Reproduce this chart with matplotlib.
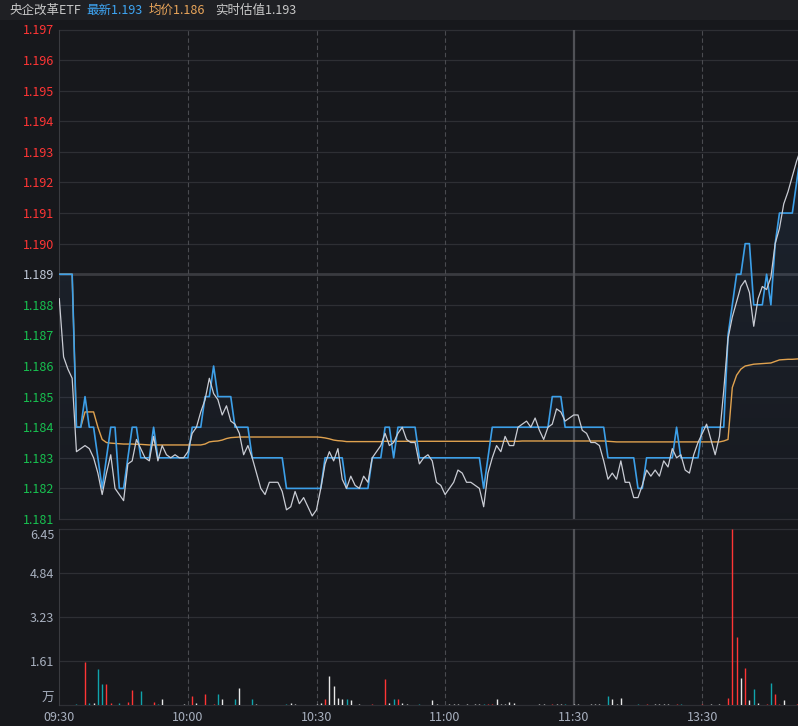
import numpy as np
import matplotlib.pyplot as plt
from matplotlib.patches import PathPatch, Rectangle
from matplotlib.colors import LinearSegmentedColormap

plt.rcParams['font.family'] = ['Noto Sans CJK SC', 'DejaVu Sans']

# --- data (one value per minute from 09:30) ---
price = [1.189, 1.189, 1.189, 1.189, 1.184, 1.184, 1.185, 1.184, 1.184, 1.183,
         1.182, 1.183, 1.184, 1.184, 1.182, 1.182, 1.183, 1.184, 1.184, 1.183,
         1.183, 1.183, 1.184, 1.183, 1.183, 1.183, 1.183, 1.183, 1.183, 1.183,
         1.183, 1.184, 1.184, 1.184, 1.185, 1.185, 1.186, 1.185, 1.185, 1.185,
         1.185, 1.184, 1.184, 1.184, 1.184, 1.183, 1.183, 1.183, 1.183, 1.183,
         1.183, 1.183, 1.183, 1.182, 1.182, 1.182, 1.182, 1.182, 1.182, 1.182,
         1.182, 1.182, 1.183, 1.183, 1.183, 1.183, 1.183, 1.182, 1.182, 1.182,
         1.182, 1.182, 1.182, 1.183, 1.183, 1.183, 1.184, 1.184, 1.183, 1.184,
         1.184, 1.184, 1.184, 1.184, 1.183, 1.183, 1.183, 1.183, 1.183, 1.183,
         1.183, 1.183, 1.183, 1.183, 1.183, 1.183, 1.183, 1.183, 1.183, 1.182,
         1.183, 1.184, 1.184, 1.184, 1.184, 1.184, 1.184, 1.184, 1.184, 1.184,
         1.184, 1.184, 1.184, 1.184, 1.184, 1.185, 1.185, 1.185, 1.184, 1.184,
         1.184, 1.184, 1.184, 1.184, 1.184, 1.184, 1.184, 1.184, 1.183, 1.183,
         1.183, 1.183, 1.183, 1.183, 1.183, 1.182, 1.182, 1.183, 1.183, 1.183,
         1.183, 1.183, 1.183, 1.183, 1.184, 1.183, 1.183, 1.183, 1.183, 1.183,
         1.184, 1.184, 1.184, 1.184, 1.184, 1.184, 1.187, 1.188, 1.189, 1.189,
         1.190, 1.190, 1.188, 1.188, 1.188, 1.189, 1.188, 1.190, 1.191, 1.191,
         1.191, 1.191, 1.192, 1.193]

iopv = [1.1882, 1.1863, 1.1859, 1.1856, 1.1832, 1.1833, 1.1834, 1.1833, 1.1830, 1.1825,
        1.1818, 1.1825, 1.1831, 1.1820, 1.1818, 1.1816, 1.1828, 1.1829, 1.1836, 1.1833,
        1.1830, 1.1829, 1.1837, 1.1829, 1.1834, 1.1831, 1.1830, 1.1831, 1.1830, 1.1830,
        1.1832, 1.1838, 1.1840, 1.1845, 1.1849, 1.1856, 1.1851, 1.1849, 1.1844, 1.1847,
        1.1842, 1.1841, 1.1838, 1.1831, 1.1834, 1.1830, 1.1825, 1.1820, 1.1818, 1.1822,
        1.1822, 1.1822, 1.1819, 1.1813, 1.1814, 1.1819, 1.1815, 1.1817, 1.1814, 1.1811,
        1.1813, 1.1820, 1.1828, 1.1832, 1.1829, 1.1833, 1.1823, 1.1820, 1.1824, 1.1821,
        1.1820, 1.1824, 1.1822, 1.1830, 1.1832, 1.1834, 1.1838, 1.1834, 1.1835, 1.1838,
        1.1840, 1.1836, 1.1835, 1.1835, 1.1828, 1.1830, 1.1831, 1.1829, 1.1822, 1.1821,
        1.1818, 1.1820, 1.1822, 1.1826, 1.1825, 1.1822, 1.1822, 1.1821, 1.1820, 1.1814,
        1.1825, 1.1830, 1.1834, 1.1832, 1.1837, 1.1834, 1.1834, 1.1840, 1.1841, 1.1842,
        1.1840, 1.1843, 1.1839, 1.1836, 1.1840, 1.1841, 1.1846, 1.1845, 1.1842, 1.1843,
        1.1844, 1.1844, 1.1839, 1.1838, 1.1835, 1.1835, 1.1834, 1.1829, 1.1823, 1.1825,
        1.1823, 1.1829, 1.1822, 1.1822, 1.1817, 1.1817, 1.1821, 1.1826, 1.1824, 1.1826,
        1.1824, 1.1829, 1.1827, 1.1833, 1.1830, 1.1831, 1.1826, 1.1825, 1.1831, 1.1835,
        1.1838, 1.1841, 1.1836, 1.1831, 1.1837, 1.1852, 1.1869, 1.1876, 1.1881, 1.1886,
        1.1888, 1.1884, 1.1873, 1.1882, 1.1886, 1.1885, 1.1889, 1.1900, 1.1905, 1.1913,
        1.1917, 1.1922, 1.1927, 1.1931]

avg_price = [1.1890, 1.1890, 1.1890, 1.1890, 1.1840, 1.1840, 1.1845, 1.1845, 1.1845, 1.1840,
             1.1836, 1.1835, 1.18348, 1.18347, 1.18346, 1.18345, 1.18345, 1.18345, 1.18344, 1.18344,
             1.18343, 1.18342, 1.18342, 1.18342, 1.18342, 1.18342, 1.18342, 1.18342, 1.18342, 1.18342,
             1.18342, 1.18342, 1.18342, 1.18342, 1.18345, 1.18352, 1.18354, 1.18355, 1.18358, 1.18363,
             1.18366, 1.18367, 1.18368, 1.18368, 1.18368, 1.18368, 1.18368, 1.18368, 1.18368, 1.18368,
             1.18368, 1.18368, 1.18368, 1.18368, 1.18368, 1.18368, 1.18368, 1.18368, 1.18368, 1.18368,
             1.18368, 1.18367, 1.18365, 1.18362, 1.18358, 1.18356, 1.18355, 1.18353, 1.18353, 1.18353,
             1.18353, 1.18353, 1.18353, 1.18353, 1.18353, 1.18353, 1.18354, 1.18354, 1.18354, 1.18354,
             1.18354, 1.18354, 1.18354, 1.18354, 1.18354, 1.18354, 1.18354, 1.18354, 1.18354, 1.18354,
             1.18354, 1.18354, 1.18354, 1.18354, 1.18354, 1.18354, 1.18354, 1.18354, 1.18354, 1.18354,
             1.18354, 1.18354, 1.18354, 1.18354, 1.18354, 1.18354, 1.18354, 1.18354, 1.18355, 1.18355,
             1.18355, 1.18355, 1.18355, 1.18355, 1.18355, 1.18355, 1.18355, 1.18355, 1.18355, 1.18355,
             1.18355, 1.18355, 1.18355, 1.18355, 1.18355, 1.18355, 1.18355, 1.18355, 1.18354, 1.18353,
             1.18352, 1.18352, 1.18352, 1.18352, 1.18352, 1.18352, 1.18352, 1.18352, 1.18352, 1.18352,
             1.18352, 1.18352, 1.18352, 1.18352, 1.18352, 1.18352, 1.18352, 1.18352, 1.18352, 1.18352,
             1.18352, 1.18352, 1.18352, 1.18352, 1.18352, 1.18355, 1.18360, 1.18530, 1.18570, 1.18590,
             1.18600, 1.18603, 1.18606, 1.18607, 1.18608, 1.18609, 1.18610, 1.18615, 1.18620, 1.18621,
             1.18622, 1.18622, 1.18623, 1.18624]

# volume per minute, in 万; direction u = up, d = down, f = flat
vol_minute = [4, 6, 7, 8, 9, 10, 11, 12, 14, 16, 17, 19, 22, 23, 24, 29, 31, 32, 34, 36,
              37, 38, 41, 42, 45, 46, 53, 54, 55, 60, 61, 62, 63, 64, 65, 66, 67, 68, 70, 73,
              76, 77, 78, 79, 80, 81, 84, 87, 88, 91, 92, 93, 95, 97, 98, 99, 100, 101, 102, 103,
              104, 105, 106, 112, 113, 115, 116, 117, 118, 120, 121, 124, 125, 126, 128, 129, 130, 131, 135, 137,
              139, 140, 141, 142, 144, 145, 150, 152, 154, 156, 157, 158, 159, 160, 161, 162, 163, 165, 166, 167,
              168, 169, 172]
vol_value = [0.05, 1.58, 0.10, 0.07, 1.33, 0.79, 0.79, 0.07, 0.10, 0.12, 0.57, 0.54, 0.12, 0.06, 0.23, 0.06, 0.34, 0.10, 0.42, 0.06,
             0.42, 0.23, 0.23, 0.63, 0.23, 0.06, 0.06, 0.10, 0.06, 0.06, 0.10, 0.23, 1.09, 0.72, 0.28, 0.23, 0.23, 0.20, 0.06, 0.06,
             0.96, 0.10, 0.23, 0.23, 0.07, 0.05, 0.05, 0.20, 0.06, 0.05, 0.05, 0.05, 0.05, 0.05, 0.05, 0.05, 0.05, 0.05, 0.23, 0.05,
             0.05, 0.13, 0.10, 0.05, 0.05, 0.05, 0.05, 0.05, 0.05, 0.05, 0.05, 0.05, 0.05, 0.05, 0.34, 0.23, 0.05, 0.27, 0.05, 0.05,
             0.05, 0.05, 0.05, 0.05, 0.05, 0.05, 0.05, 0.05, 0.05, 0.26, 6.45, 2.49, 0.99, 1.35, 0.18, 0.59, 0.07, 0.04, 0.81, 0.40,
             0.04, 0.18, 0.04]
vol_dir = ['d', 'u', 'd', 'f', 'd', 'd', 'u', 'u', 'd', 'u', 'u', 'd', 'u', 'd', 'f', 'f', 'u', 'f', 'u', 'u',
           'd', 'f', 'd', 'f', 'd', 'f', 'd', 'f', 'f', 'f', 'f', 'u', 'f', 'f', 'f', 'f', 'd', 'f', 'f', 'u',
           'u', 'f', 'd', 'u', 'f', 'f', 'd', 'f', 'f', 'f', 'f', 'f', 'f', 'f', 'f', 'd', 'u', 'u', 'f', 'f',
           'f', 'f', 'f', 'f', 'f', 'u', 'f', 'f', 'd', 'f', 'f', 'f', 'f', 'f', 'd', 'f', 'f', 'f', 'd', 'u',
           'f', 'f', 'f', 'f', 'u', 'd', 'u', 'f', 'f', 'u', 'u', 'u', 'f', 'u', 'f', 'd', 'f', 'u', 'd', 'u',
           'u', 'f', 'u']

time_ticks = [0, 30, 60, 90, 120, 150]
time_labels = ['09:30', '10:00', '10:30', '11:00', '11:30', '13:30']
prev_close = 1.189
price_ticks = [round(1.181 + 0.001 * i, 3) for i in range(17)]
vol_ticks = [0, 1.61, 3.23, 4.84, 6.45]
vol_labels = ['万', '1.61', '3.23', '4.84', '6.45']

# --- style ---
BG = '#17181c'
HEAD_BG = '#1f2024'
GRID = '#2e2f34'
VGRID = '#4a4b50'
RED = '#ff3535'
GREEN = '#18c050'
TEAL = '#10a4ac'
WHITE = '#e8e8e8'
LABEL = '#a8b0bf'
BLUE = '#3c9fe8'
dir_color = {'u': RED, 'd': TEAL, 'f': WHITE}

W, H = 798, 726
fig = plt.figure(figsize=(W / 100, H / 100), dpi=100)
fig.patch.set_facecolor(BG)


def box(x0, y0, x1, y1):
    return [x0 / W, 1 - y1 / H, (x1 - x0) / W, (y1 - y0) / H]


px_per_min = (702.3 - 59.3) / 150
xmax = (W - 59.3) / px_per_min

# header
fig.patches.append(Rectangle((0, 1 - 20 / H), 1, 20 / H, transform=fig.transFigure,
                             facecolor=HEAD_BG, edgecolor='none', zorder=0))
head_y = 1 - 10.5 / H
fig.text(9 / W, head_y, '央企改革ETF', color='#c8c8c8', fontsize=9, va='center')
fig.text(86 / W, head_y, f'最新{price[-1]:.3f}', color='#3ea6f5', fontsize=9, va='center')
fig.text(149 / W, head_y, f'均价{avg_price[-1]:.3f}', color='#e9a55a', fontsize=9, va='center')
fig.text(215 / W, head_y, f'实时估值{iopv[-1]:.3f}', color='#c8c8c8', fontsize=9, va='center')

ax = fig.add_axes(box(59.3, 29.5, W, 519))
axv = fig.add_axes(box(59.3, 529.3, W, 705.3), sharex=ax)

for a in (ax, axv):
    a.set_facecolor(BG)
    for s in ('top', 'right', 'bottom'):
        a.spines[s].set_visible(False)
    a.spines['left'].set_color('#3a3b40')
    a.tick_params(length=0)
    for t in time_ticks[1:]:
        if t == 120:
            a.axvline(t, color='#505156', lw=1.6, zorder=0.6)
        else:
            a.axvline(t, color=VGRID, lw=0.8, ls=(0, (4, 2.5)), zorder=0.6)

# price panel
x = np.arange(len(price))
for t in price_ticks:
    if t == prev_close:
        ax.axhline(t, color='#3a3b40', lw=2.0, zorder=0.5)
    else:
        ax.axhline(t, color=GRID, lw=0.9, zorder=0.5, clip_on=False)

poly = ax.fill_between(x, price, 1.181, facecolor='none', edgecolor='none')
patch = PathPatch(poly.get_paths()[0], transform=ax.transData, facecolor='none', edgecolor='none')
ax.add_patch(patch)
cmap = LinearSegmentedColormap.from_list('fill', [(0.23, 0.43, 0.65, 0.03), (0.23, 0.43, 0.65, 0.17)])
grad = np.linspace(0, 1, 256).reshape(-1, 1)
im = ax.imshow(grad, extent=[0, len(price) - 1, 1.181, 1.197], origin='lower', cmap=cmap,
               aspect='auto', zorder=1, interpolation='bilinear')
im.set_clip_path(patch)

ax.plot(x, avg_price, color='#e0a24f', lw=1.0, zorder=3)
ax.plot(x, price, color=BLUE, lw=1.2, zorder=4)
ax.plot(x, iopv, color='#c9ccd4', lw=0.9, zorder=5)

ax.set_ylim(1.181, 1.197)
ax.set_yticks(price_ticks)
ax.set_yticklabels([f'{t:.3f}' for t in price_ticks], fontsize=9)
for lab, t in zip(ax.get_yticklabels(), price_ticks):
    lab.set_color(RED if t > prev_close else ('#c0c8d8' if t == prev_close else GREEN))
ax.tick_params(axis='y', pad=3.5)
ax.tick_params(axis='x', labelbottom=False)

# volume panel
for t in vol_ticks:
    axv.axhline(t, color=GRID, lw=0.9, zorder=0.5, clip_on=False)
axv.vlines(vol_minute, 0, vol_value, colors=[dir_color[d] for d in vol_dir], lw=1.0, zorder=3)
axv.set_ylim(0, 6.45)
axv.set_yticks(vol_ticks)
axv.set_yticklabels(vol_labels, fontsize=9, color=LABEL)
labs = axv.get_yticklabels()
labs[0].set_va('bottom')
labs[-1].set_va('top')
axv.tick_params(axis='y', pad=3.5)
axv.set_xticks(time_ticks)
axv.set_xticklabels(time_labels, fontsize=9, color=LABEL)
axv.tick_params(axis='x', pad=4)
axv.set_xlim(0, xmax)

fig.savefig('out.png', dpi=100, facecolor=BG)
